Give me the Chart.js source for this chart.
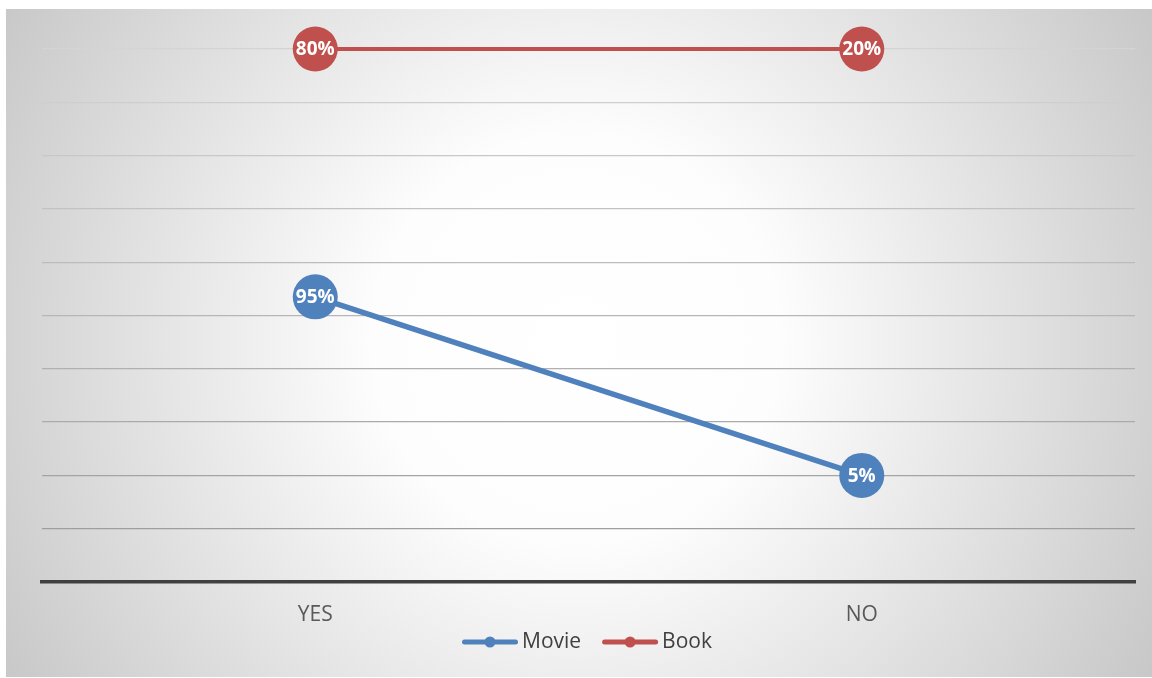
<!DOCTYPE html>
<html>
<head>
<meta charset="utf-8">
<script src="https://cdn.jsdelivr.net/npm/chart.js@4.4.1/dist/chart.umd.min.js"></script>
<style>
  html, body { margin: 0; padding: 0; background: #ffffff; }
</style>
</head>
<body>
<canvas id="c" width="1152" height="678"></canvas>
<script>
// Categories
const categories = ['YES', 'NO'];
// Plotted positions of each series (on a 0-100 axis)
const moviePositions = [53.5, 20];
const bookPositions = [100, 100];
// Data labels shown on the markers
const movieLabels = ['95%', '5%'];
const bookLabels = ['80%', '20%'];
const seriesNames = ['Movie', 'Book'];
const seriesColors = ['#4f81bd', '#c0504d'];

const bgPlugin = {
  id: 'bg',
  beforeDraw(chart) {
    const ctx = chart.ctx;
    ctx.save();
    ctx.fillStyle = '#ffffff';
    ctx.fillRect(0, 0, chart.width, chart.height);
    const cx = 576, cy = 340;
    const grad = ctx.createRadialGradient(cx, cy, 0, cx, cy, 680);
    grad.addColorStop(0, '#ffffff');
    grad.addColorStop(0.3, '#fdfdfd');
    grad.addColorStop(1, '#c6c6c6');
    ctx.fillStyle = grad;
    ctx.fillRect(6, 9, 1146, 668);
    ctx.restore();
  }
};

const labelPlugin = {
  id: 'ptLabels',
  afterDatasetsDraw(chart) {
    const ctx = chart.ctx;
    const all = [movieLabels, bookLabels];
    ctx.save();
    ctx.font = 'bold 19px "Open Sans"';
    ctx.fillStyle = '#ffffff';
    ctx.textAlign = 'center';
    ctx.textBaseline = 'middle';
    chart.data.datasets.forEach((ds, i) => {
      const meta = chart.getDatasetMeta(i);
      meta.data.forEach((pt, j) => {
        ctx.fillText(all[i][j], pt.x, pt.y + 1);
      });
    });
    ctx.restore();
  }
};

// Legend drawn below the axis: line with a dot, then the series name
const legendPlugin = {
  id: 'lineLegend',
  afterDraw(chart) {
    const ctx = chart.ctx;
    ctx.save();
    ctx.font = '21px "Open Sans"';
    ctx.textBaseline = 'middle';
    ctx.textAlign = 'left';
    const lineLen = 56, gapText = 4, gapItem = 21;
    const widths = chart.data.datasets.map(ds => lineLen + gapText + ctx.measureText(ds.label).width);
    const total = widths.reduce((a, b) => a + b, 0) + gapItem * (widths.length - 1);
    const centerX = (chart.chartArea.left + chart.chartArea.right) / 2 - 1.5;
    const y = chart.chartArea.bottom + 60;
    let x = centerX - total / 2;
    chart.data.datasets.forEach((ds, i) => {
      ctx.strokeStyle = ds.borderColor;
      ctx.fillStyle = ds.borderColor;
      ctx.lineWidth = 5;
      ctx.lineCap = 'round';
      ctx.beginPath();
      ctx.moveTo(x + 2.5, y);
      ctx.lineTo(x + lineLen - 2.5, y);
      ctx.stroke();
      ctx.beginPath();
      ctx.arc(x + lineLen / 2, y, 5.5, 0, Math.PI * 2);
      ctx.fill();
      ctx.fillStyle = '#404040';
      ctx.fillText(ds.label, x + lineLen + gapText, y);
      x += widths[i] + gapItem;
    });
    ctx.restore();
  }
};

function gridColor(ctx) {
  const v = ctx.tick ? ctx.tick.value : 0;
  const t = 1 - v / 100; // 0 at top, 1 at bottom
  const c = Math.round(212 - t * 60);
  return `rgb(${c},${c},${c})`;
}

new Chart(document.getElementById('c'), {
  type: 'line',
  data: {
    labels: categories,
    datasets: [
      {
        label: seriesNames[0],
        data: moviePositions,
        borderColor: seriesColors[0],
        backgroundColor: seriesColors[0],
        borderWidth: 5.5,
        pointRadius: 22.5,
        pointHoverRadius: 22.5,
        pointBorderWidth: 0,
        pointBackgroundColor: seriesColors[0],
        tension: 0,
        clip: false
      },
      {
        label: seriesNames[1],
        data: bookPositions,
        borderColor: seriesColors[1],
        backgroundColor: seriesColors[1],
        borderWidth: 4,
        pointRadius: 22.5,
        pointHoverRadius: 22.5,
        pointBorderWidth: 0,
        pointBackgroundColor: seriesColors[1],
        tension: 0,
        clip: false
      }
    ]
  },
  options: {
    responsive: false,
    animation: false,
    devicePixelRatio: 1,
    layout: { autoPadding: false, padding: { left: 42, right: 17, top: 49, bottom: 46 } },
    plugins: {
      tooltip: { enabled: false },
      legend: { display: false }
    },
    scales: {
      x: {
        offset: true,
        afterFit(scale) { scale.height = 50; },
        grid: { display: false, drawTicks: false },
        border: { display: true, color: '#404040', width: 3.5 },
        ticks: {
          color: '#595959',
          padding: 20,
          font: { family: '"Open Sans"', size: 21 }
        }
      },
      y: {
        min: 0,
        max: 100,
        ticks: { display: false, stepSize: 10 },
        grid: {
          drawTicks: false,
          color: gridColor,
          lineWidth: ctx => (ctx.tick && ctx.tick.value === 0 ? 0 : 1.2)
        },
        border: { display: false }
      }
    }
  },
  plugins: [bgPlugin, labelPlugin, legendPlugin]
});
</script>
</body>
</html>
